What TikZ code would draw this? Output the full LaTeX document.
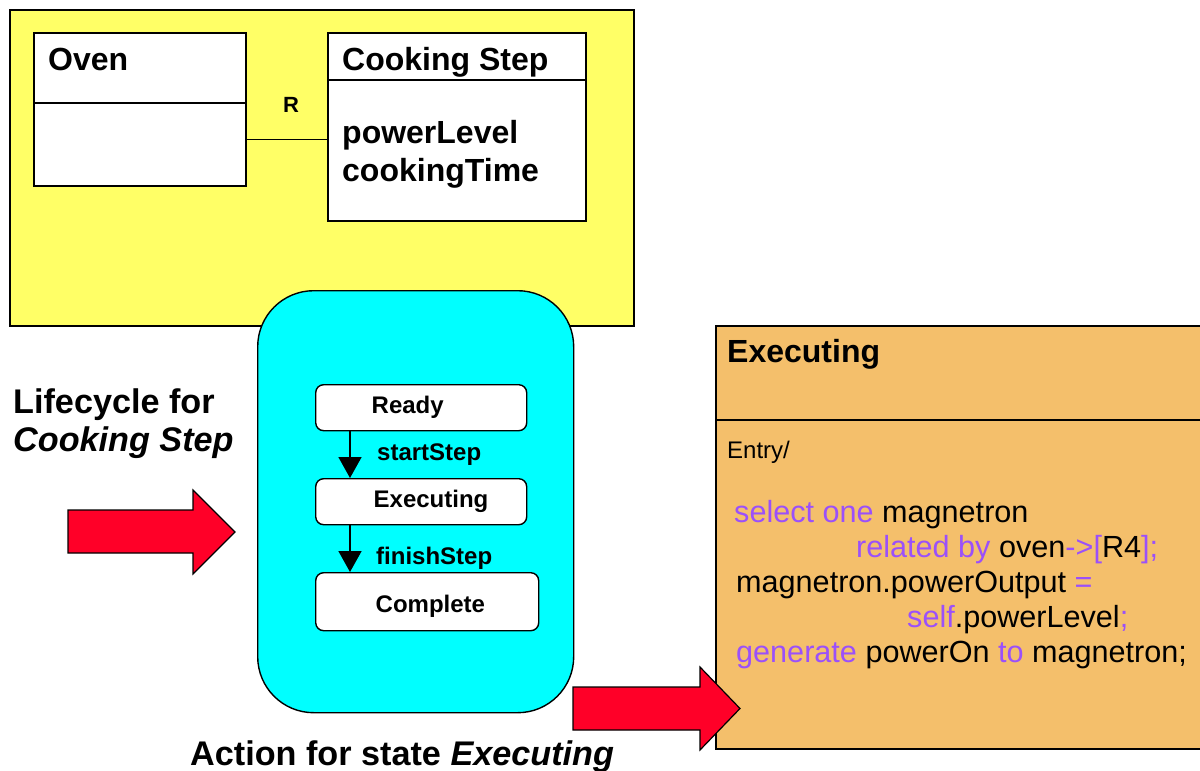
\documentclass[tikz,border=0pt]{standalone}
\usepackage{fontspec}
\setmainfont{Liberation Sans}
\usetikzlibrary{positioning}
\usetikzlibrary{arrows.meta}
\definecolor{notebg}{RGB}{255,255,102}
\definecolor{lifecyan}{RGB}{0,255,255}
\definecolor{actionbg}{RGB}{244,191,107}
\definecolor{keyword}{RGB}{155,80,250}
\definecolor{arrowred}{RGB}{255,0,40}
\newcommand{\kw}[1]{\textcolor{keyword}{#1}}
\newcommand{\statename}[2]{\makebox[205pt][l]{\hspace{#1}#2}}

\begin{document}
\begin{tikzpicture}[x=1pt,y=-1pt,
    classbox/.style={draw, line width=1.6pt, fill=white, inner sep=0pt, anchor=north west},
    classtext/.style={anchor=base west, inner sep=0pt, font=\fontsize{32}{38}\selectfont\bfseries},
    statebox/.style={draw, line width=1.4pt, fill=white, rounded corners=8pt, inner sep=0pt, anchor=north west, font=\fontsize{24}{28}\selectfont\bfseries},
    translabel/.style={anchor=base west, inner sep=0pt, font=\fontsize{24}{28}\selectfont\bfseries},
    caption/.style={anchor=base west, inner sep=0pt, font=\fontsize{34.2}{40}\selectfont\bfseries},
    codeline/.style={anchor=base west, inner sep=0pt, font=\fontsize{30.6}{36}\selectfont},
    transition/.style={-{Triangle[length=21pt,width=23pt]}, line width=1.6pt},
    bigarrow/.style={draw, line width=1.2pt, fill=arrowred}]
    \path[use as bounding box, fill=white] (0,0) rectangle (1200,771);

    % Class diagram
    \node[draw, line width=1.6pt, fill=notebg, inner sep=0pt, anchor=north west, minimum width=624pt, minimum height=316pt] (classdiag) at (9,9) {};
    \node[classbox, minimum width=212pt, minimum height=70pt] (ovenhead) at (33,32) {};
    \node[classbox, minimum width=212pt, minimum height=83pt] (ovenbody) at (33,102) {};
    \node[classbox, minimum width=258pt, minimum height=47pt] (stephead) at (327,32) {};
    \node[classbox, minimum width=258pt, minimum height=141pt] (stepbody) at (327,79) {};
    \node[classtext] (oventitle) at (48,70) {Oven};
    \node[classtext] (steptitle) at (342,70) {Cooking Step};
    \node[classtext] (powerlevel) at (342,143) {powerLevel};
    \node[classtext] (cookingtime) at (342,181) {cookingTime};
    \draw[line width=1.5pt] ([yshift=5pt]ovenbody.east) -- ([yshift=5pt]ovenbody.east -| stepbody.west);
    \node[anchor=base, inner sep=0pt, font=\fontsize{22}{26}\selectfont\bfseries] (rlabel) at (291,112) {R};

    % Lifecycle
    \node[draw, line width=1.4pt, fill=lifecyan, rounded corners=56pt, inner sep=0pt, anchor=north west, minimum width=316pt, minimum height=422pt] (lifecycle) at (257,290) {};
    \node[statebox, minimum width=211pt, minimum height=46pt] (ready) at (315,384) {\statename{53pt}{Ready}};
    \node[statebox, minimum width=211pt, minimum height=46pt] (executing) at (315,478) {\statename{55pt}{Executing}};
    \node[statebox, minimum width=223pt, minimum height=58pt] (complete) at (315,572) {\statename{51pt}{\raisebox{-5pt}[\height][\depth]{Complete}}};
    \draw[transition] ([xshift=35pt]ready.south west) -- ([xshift=35pt]executing.north west);
    \draw[transition] ([xshift=35pt]executing.south west) -- ([xshift=35pt]complete.north west);
    \node[translabel] (startstep) at (377,460) {startStep};
    \node[translabel] (finishstep) at (376,564) {finishStep};

    \node[caption] (lifetitle) at (13,413) {Lifecycle for};
    \node[caption] (lifename) at (13,451) {\itshape Cooking Step};
    \node[caption] (actiontitle) at (190,765) {Action for state \textit{Executing}};

    % State action
    \node[draw, line width=1.6pt, fill=actionbg, inner sep=0pt, anchor=north west, minimum width=500pt, minimum height=94pt] (actionhead) at (715,325) {};
    \node[draw, line width=1.6pt, fill=actionbg, inner sep=0pt, anchor=north west, minimum width=500pt, minimum height=329pt] (actionbody) at (715,419) {};
    \node[classtext] (actionname) at (727,362) {Executing};
    \node[anchor=base west, inner sep=0pt, font=\fontsize{24}{28}\selectfont] (entry) at (727,458) {Entry/};
    \node[codeline] (line1) at (734,522) {\kw{select one} magnetron};
    \node[codeline] (line2) at (856,557) {\kw{related by} oven\kw{->[}R4\kw{];}};
    \node[codeline] (line3) at (736,592) {magnetron.powerOutput \kw{=}};
    \node[codeline] (line4) at (907,627) {\kw{self}.powerLevel\kw{;}};
    \node[codeline] (line5) at (736,662) {\kw{generate} powerOn \kw{to} magnetron;};

    % Big arrows
    \draw[bigarrow] (68,510) -- (193,510) -- (193,490) -- (235,532) -- (193,574) -- (193,553) -- (68,553) -- cycle;
    \draw[bigarrow] (573,687) -- (700,687) -- (700,667) -- (740,708.5) -- (700,750) -- (700,730) -- (573,730) -- cycle;
\end{tikzpicture}
\end{document}
